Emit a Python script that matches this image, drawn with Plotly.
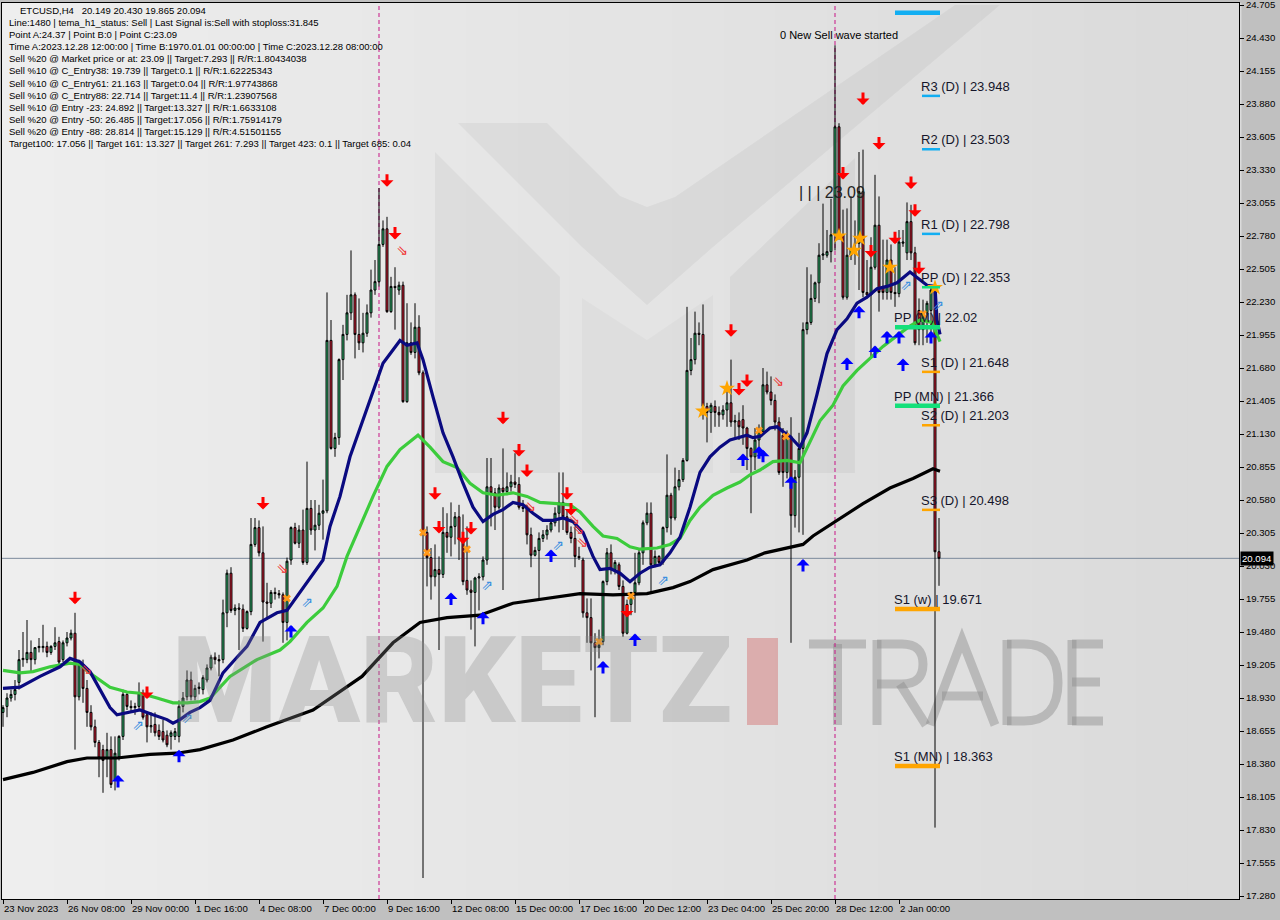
import plotly.graph_objects as go

# ---------------- DATA ----------------
opens = [18.81,18.86,18.93,18.96,19.06,19.25,19.25,19.31,19.25,19.35,
         19.35,19.36,19.31,19.36,19.40,19.25,19.39,19.43,19.47,18.94,
         19.21,19.01,18.81,18.69,18.56,18.50,18.43,18.50,18.25,18.44,
         18.61,18.96,18.86,18.85,18.86,18.97,18.79,18.69,18.71,18.66,
         18.65,18.62,18.61,18.61,18.61,18.86,18.94,19.08,18.94,19.01,
         19.00,19.08,19.18,19.27,19.25,19.25,19.64,19.97,19.66,19.68,
         19.67,19.51,19.65,20.21,20.35,20.14,19.73,19.72,19.81,19.80,
         19.79,19.56,20.08,20.35,20.22,20.33,20.06,20.51,20.33,20.37,
         20.47,20.49,21.91,21.01,21.10,21.75,21.96,22.14,22.29,21.96,
         21.89,21.97,22.14,22.33,22.40,22.71,22.84,22.15,22.36,22.33,
         22.37,21.40,21.89,21.81,22.02,21.64,20.31,20.10,19.94,20.00,
         19.96,20.31,20.27,20.36,20.44,20.25,19.91,19.83,19.81,19.93,
         19.94,20.08,20.69,20.64,20.52,20.68,20.65,20.69,20.73,20.71,
         20.52,20.51,20.29,20.12,20.16,20.26,20.29,20.33,20.39,20.47,
         20.56,20.44,20.31,20.26,20.11,20.08,19.64,19.60,19.39,19.35,
         19.40,19.90,20.14,20.00,20.04,19.86,19.47,19.71,19.81,19.89,
         20.14,20.39,20.47,20.04,20.11,20.06,20.35,20.62,20.43,20.69,
         20.75,20.91,21.66,21.75,21.97,21.96,21.36,21.31,21.36,21.31,
         21.29,21.33,21.39,21.23,21.24,21.25,21.18,21.01,20.94,21.08,
         21.15,21.54,21.48,21.41,21.23,21.12,20.81,21.11,20.45,20.77,
         21.01,22.00,22.06,22.26,22.39,22.62,22.62,22.65,22.79,23.69,
         22.79,22.27,22.62,22.67,22.72,23.15,22.31,22.29,22.52,22.87,
         22.36,22.31,22.58,22.31,22.30,22.72,22.64,22.90,22.64,22.16,
         22.00,22.14,22.16,22.33,20.149]
highs = [18.87,18.97,19.00,19.08,19.33,19.48,19.58,19.41,19.35,19.43,
         19.54,19.40,19.37,19.52,19.44,19.41,19.48,19.50,19.64,19.25,
         19.25,19.08,18.87,18.75,18.58,18.54,18.64,18.61,18.61,18.62,
         19.00,18.97,18.91,18.89,19.06,19.00,18.81,18.81,18.81,18.71,
         18.75,18.66,18.66,18.68,18.91,18.98,19.16,19.15,19.04,19.06,
         19.12,19.21,19.29,19.31,19.29,19.75,20.00,20.02,19.71,19.72,
         19.71,19.66,20.43,20.43,20.41,20.36,19.89,19.83,19.85,19.83,
         19.81,20.10,20.36,20.39,20.37,20.50,20.90,20.58,20.58,20.54,
         20.75,22.31,22.08,21.14,21.76,22.04,22.29,22.66,22.31,22.26,
         22.14,22.21,22.50,22.58,23.18,22.91,22.94,22.44,22.52,22.40,
         22.40,22.22,22.06,22.22,22.12,21.66,20.36,20.18,20.21,20.11,
         20.52,20.47,20.56,20.48,20.54,20.46,20.36,19.91,19.94,19.97,
         20.11,20.93,20.93,20.68,20.71,21.01,20.81,20.79,20.97,20.77,
         20.58,20.54,20.35,20.19,20.31,20.33,20.37,20.40,20.52,20.81,
         20.81,20.50,20.36,20.36,20.19,20.10,19.76,19.76,19.47,19.50,
         19.91,20.18,20.21,20.08,20.06,19.91,19.75,19.81,20.14,20.18,
         20.41,20.56,20.56,20.16,20.12,20.36,20.96,20.64,20.85,20.83,
         20.93,22.19,21.93,22.15,22.06,22.21,21.39,21.39,21.41,21.36,
         21.37,21.50,21.75,21.29,21.31,21.37,21.19,21.02,21.18,21.21,
         21.68,21.65,21.61,21.46,21.27,21.18,21.16,21.27,20.83,21.14,
         22.06,22.52,22.46,22.40,22.72,23.05,22.83,23.09,24.37,23.72,
         23.00,23.01,23.11,22.91,23.48,23.50,22.58,22.77,23.29,23.11,
         22.75,22.75,22.71,22.52,22.83,22.83,23.06,23.04,22.69,22.26,
         22.25,22.24,22.36,22.35,20.430]
lows = [18.69,18.77,18.90,18.91,19.00,19.19,19.22,19.15,19.21,19.31,
        19.31,19.27,19.29,19.33,19.21,19.23,19.36,19.41,18.50,18.91,
        18.89,18.69,18.66,18.52,18.27,18.14,18.27,18.18,18.16,18.41,
        18.58,18.83,18.81,18.79,18.83,18.75,18.56,18.64,18.61,18.58,
        18.56,18.52,18.50,18.58,18.56,18.81,18.91,18.91,18.91,18.96,
        18.96,19.06,19.16,19.21,19.11,19.22,19.52,19.64,19.62,19.33,
        19.48,19.50,19.62,20.19,20.11,19.40,19.58,19.68,19.75,19.76,
        19.39,19.41,20.04,20.21,20.18,20.04,20.04,20.29,20.16,20.33,
        20.25,20.47,21.00,20.94,21.04,21.58,21.91,22.08,21.76,21.83,
        21.81,21.94,22.10,22.29,22.36,22.69,22.14,22.14,22.00,22.29,
        21.39,21.39,21.79,21.76,21.62,17.43,19.86,19.75,19.86,19.33,
        19.93,20.14,20.11,20.21,20.08,19.87,19.79,19.50,19.36,19.66,
        19.91,20.04,20.36,20.33,20.50,19.83,20.62,20.65,20.68,20.50,
        20.48,20.21,20.02,20.11,19.75,20.23,20.25,20.31,20.36,20.31,
        20.33,20.29,20.22,20.02,20.08,19.60,19.39,19.16,18.77,19.26,
        19.37,19.87,19.96,19.96,19.83,19.44,19.46,19.62,19.64,19.87,
        20.04,20.37,19.81,20.02,20.04,20.04,20.31,20.29,20.41,20.66,
        20.73,20.90,21.62,21.71,21.87,21.25,21.06,21.14,21.19,21.19,
        21.25,21.19,21.19,21.08,21.08,21.04,20.83,20.47,20.83,21.01,
        21.12,21.46,21.37,21.16,20.79,20.69,20.76,19.39,20.35,20.31,
        20.29,21.96,22.04,22.23,22.22,22.58,22.60,22.56,22.66,22.75,
        22.25,22.25,22.58,22.54,22.33,22.27,22.26,21.77,22.50,22.15,
        22.25,22.25,22.25,22.19,22.27,22.69,22.58,22.58,21.87,21.87,
        21.87,21.89,21.97,17.85,19.865]
closes = [18.85,18.93,18.96,19.00,19.25,19.26,19.31,19.25,19.35,19.36,
          19.36,19.31,19.36,19.39,19.23,19.39,19.43,19.47,18.94,19.21,
          19.01,18.81,18.69,18.56,18.43,18.41,18.50,18.21,18.47,18.61,
          18.96,18.86,18.85,18.86,18.97,18.77,18.69,18.70,18.64,18.61,
          18.58,18.54,18.64,18.65,18.86,18.93,19.08,18.94,19.01,19.02,
          19.10,19.18,19.27,19.25,19.24,19.64,19.97,19.66,19.68,19.67,
          19.51,19.65,20.21,20.35,20.14,19.73,19.72,19.81,19.80,19.79,
          19.56,20.07,20.35,20.22,20.33,20.06,20.51,20.33,20.37,20.47,
          20.49,21.91,21.01,21.10,21.75,21.96,22.14,22.29,21.96,21.89,
          21.97,22.14,22.33,22.40,22.71,22.84,22.15,22.36,22.35,22.37,
          21.40,21.89,21.81,22.02,21.64,20.31,20.10,19.94,20.00,19.96,
          20.31,20.27,20.36,20.44,20.25,19.90,19.83,19.81,19.93,19.94,
          20.08,20.69,20.64,20.52,20.68,20.65,20.69,20.73,20.71,20.52,
          20.51,20.29,20.12,20.16,20.26,20.29,20.33,20.39,20.47,20.56,
          20.44,20.31,20.26,20.11,20.10,19.64,19.60,19.39,19.35,19.37,
          19.90,20.14,20.00,20.06,19.86,19.47,19.71,19.81,19.89,20.14,
          20.39,20.47,20.04,20.11,20.06,20.35,20.62,20.43,20.69,20.75,
          20.91,21.66,21.75,21.97,21.96,21.36,21.31,21.37,21.31,21.29,
          21.33,21.39,21.23,21.24,21.19,21.18,21.01,20.94,21.08,21.15,
          21.54,21.48,21.41,21.23,20.81,20.81,21.12,20.45,20.77,21.01,
          22.00,22.06,22.26,22.39,22.62,22.63,22.65,22.79,23.69,22.79,
          22.27,22.62,22.67,22.66,23.15,22.31,22.29,22.52,22.87,22.31,
          22.31,22.58,22.31,22.30,22.73,22.73,22.90,22.64,21.89,22.00,
          22.14,22.22,22.33,20.149,20.094]

# moving-average lines (bar index, price)
blue_x = [0,4.25,9.25,14.25,16.75,19.25,21.75,24.25,26.75,28.5,31,34.25,37.5,41,42.5,44.25,46.75,49.25,51.75,55,
          58.5,61,64.25,68.5,71,74.25,77.5,80,81.75,84.25,86.75,90,92.5,95,99.25,101,103.5,105,107.5,110,
          112.5,115,117.5,120,122.5,125,127.5,130,132.5,135,137.5,140,142.5,145,147.5,149.25,151.75,154.25,156.75,159.25,
          161.75,164.25,166.75,169.25,171.75,174.25,176.75,179.25,181.75,186,187.5,189.25,191.75,193.5,195,196.75,199.25,201,203.5,206,
          208.5,211,213.5,216,218.5,221,223.5,226.75,231,233,233.5,234.25]
blue_y = [19.01,19.02,19.11,19.19,19.26,19.23,19.15,19.00,18.85,18.79,18.81,18.83,18.79,18.75,18.72,18.75,18.81,18.85,18.91,19.14,
          19.27,19.36,19.56,19.64,19.66,19.81,19.97,20.08,20.36,20.61,20.94,21.25,21.50,21.72,21.91,21.87,21.89,21.75,21.44,21.14,
          20.94,20.72,20.52,20.40,20.46,20.50,20.56,20.54,20.47,20.41,20.41,20.43,20.40,20.31,20.11,20.00,20.01,19.97,19.90,19.97,
          20.02,20.04,20.14,20.27,20.52,20.81,20.94,21.02,21.08,21.12,21.10,21.11,21.18,21.19,21.15,21.11,21.02,21.14,21.46,21.80,
          22.00,22.09,22.22,22.27,22.34,22.36,22.39,22.48,22.37,22.36,22.08,21.96]
green_x = [0,4.25,7.5,11.75,16.75,19.25,22.5,26.75,31,34.25,38.5,42.5,46,49.25,51.75,56.75,63.5,69.25,71.75,76,
           80,83.5,86,89.25,92.5,96,99.25,103.75,106.75,110,113.5,116.75,120,123.5,127.5,131,134.25,138.5,141.75,144.25,
           147.5,150,153.5,156.75,159.25,163.5,166.75,169.25,171.75,174.25,177.5,181,184.25,186.75,189.25,192.5,196,199.25,201.75,204.25,
           207.5,210,213.5,216.75,220,223.5,226.75,229.25,232.25,234.25]
green_y = [19.16,19.14,19.15,19.19,19.22,19.21,19.12,19.02,18.98,18.97,18.93,18.89,18.89,18.90,18.93,19.11,19.25,19.33,19.40,19.56,
           19.68,19.86,20.11,20.36,20.61,20.86,21.00,21.12,21.02,20.90,20.85,20.72,20.64,20.62,20.64,20.61,20.56,20.55,20.54,20.48,
           20.36,20.28,20.26,20.19,20.17,20.18,20.21,20.26,20.41,20.52,20.62,20.68,20.73,20.79,20.83,20.90,20.91,20.89,21.07,21.24,
           21.37,21.53,21.66,21.76,21.86,21.95,22.03,22.08,22.06,21.90]
black_x = [0,7.5,16,21,28.5,36.75,43.5,49.25,57.5,66,77.5,89.75,97.5,104.25,111,119.25,127.5,136,141,144.25,
           152.5,161,167.5,171.75,177.5,186,190.5,196,200,202.5,208.5,215,221.75,227.5,232.5,234.25]
black_y = [18.25,18.31,18.40,18.43,18.43,18.46,18.47,18.50,18.58,18.69,18.83,19.11,19.39,19.56,19.60,19.62,19.72,19.76,19.79,19.80,
           19.79,19.80,19.85,19.90,20.00,20.08,20.14,20.18,20.21,20.28,20.41,20.55,20.68,20.76,20.84,20.82]

# signals (bar index, price)
sell_arrow_bar = [18,36,65,96,98,108,109,115,117,125,129,131,141,142,156,182,184,186,215,219,210,227,228,223,217,229]
sell_arrow_price = [19.77,18.98,20.56,23.25,22.81,20.64,20.36,20.27,20.35,21.27,21.00,20.83,20.64,20.51,19.66,22.00,21.51,21.58,
                    23.93,23.56,23.31,23.23,23.00,22.77,22.66,22.52]
buy_arrow_bar = [28.75,44,72,112,120,137,150,158,185,189,190,197,200,211,214,218,221,224,225,232]
buy_arrow_price = [18.23,18.44,19.48,19.75,19.59,20.11,19.18,19.41,20.91,20.97,20.94,20.72,20.03,21.71,22.14,21.81,21.93,21.93,21.70,21.93]
hollow_sell_bar = [20.75,69.75,99.75,131.75,142.75,143.75,144.75,193.75]
hollow_sell_price = [19.16,20.00,22.65,20.52,20.41,20.33,20.22,21.56]
hollow_buy_bar = [33.75,46,76,121,138.75,165,225.75,233.75]
hollow_buy_price = [18.69,18.75,19.72,19.86,20.19,19.90,22.36,22.19]
star_bar = [175,181,209,214.25,212.75,221.75,233]
star_price = [21.32,21.51,22.78,22.76,22.66,22.52,22.35]
cross_bar = [71,105,106,116,149,157,189,195.75,230]
cross_price = [19.76,20.31,20.14,20.17,19.40,19.78,21.16,21.11,22.13]

# pivot levels
pivot_names = ["R3 (D)", "R2 (D)", "R1 (D)", "PP (D)", "PP (M)", "S1 (D)", "PP (MN)", "S2 (D)", "S3 (D)", "S1 (w)", "S1 (MN)"]
pivot_values = [23.948, 23.503, 22.798, 22.353, 22.02, 21.648, 21.366, 21.203, 20.498, 19.671, 18.363]
top_level_value = 24.64

x_tick_bars = [0,16,32,48,64,80,96,112,128,144,160,176,192,208,224]
x_tick_labels = ["23 Nov 2023","26 Nov 08:00","29 Nov 00:00","1 Dec 16:00","4 Dec 08:00","7 Dec 00:00",
                 "9 Dec 16:00","12 Dec 08:00","15 Dec 00:00","17 Dec 16:00","20 Dec 12:00","23 Dec 04:00",
                 "25 Dec 20:00","28 Dec 12:00","2 Jan 00:00"]
y_tick_labels = ["24.705","24.430","24.155","23.880","23.605","23.330","23.055","22.780","22.505","22.230",
                 "21.955","21.680","21.405","21.130","20.855","20.580","20.305","20.030","19.755","19.480",
                 "19.205","18.930","18.655","18.380","18.105","17.830","17.555","17.280"]
last_price = 20.094
vline_bars = [94, 208]

header_lines = [
    "ETCUSD,H4\u00a0\u00a0 20.149 20.430 19.865 20.094",
    "Line:1480 | tema_h1_status: Sell | Last Signal is:Sell with stoploss:31.845",
    "Point A:24.37 | Point B:0 | Point C:23.09",
    "Time A:2023.12.28 12:00:00 | Time B:1970.01.01 00:00:00 | Time C:2023.12.28 08:00:00",
    "Sell %20 @ Market price or at: 23.09 || Target:7.293 || R/R:1.80434038",
    "Sell %10 @ C_Entry38: 19.739 || Target:0.1 || R/R:1.62225343",
    "Sell %10 @ C_Entry61: 21.163 || Target:0.04 || R/R:1.97743868",
    "Sell %10 @ C_Entry88: 22.714 || Target:11.4 || R/R:1.23907568",
    "Sell %10 @ Entry -23: 24.892 || Target:13.327 || R/R:1.6633108",
    "Sell %20 @ Entry -50: 26.485 || Target:17.056 || R/R:1.75914179",
    "Sell %20 @ Entry -88: 28.814 || Target:15.129 || R/R:4.51501155",
    "Target100: 17.056 || Target 161: 13.327 || Target 261: 7.293 || Target 423: 0.1 || Target 685: 0.04",
]

# ---------------- LAYOUT GEOMETRY ----------------
W, H = 1280, 920
ML, MR, MT, MB = 2, 41, 3, 21
PW, PH = W - ML - MR, H - MT - MB
Y_MIN, Y_MAX = 17.255, 24.722
X_MIN, X_MAX = -0.25, 309.0
PXU = PH / (Y_MAX - Y_MIN)          # pixels per price unit
BAR_PX = PW / (X_MAX - X_MIN)       # pixels per bar


def pxx(x):
    return (x - ML) / PW


def pxy(y):
    return (H - MB - y) / PH


def bar_at(xpix):
    return (xpix - ML) / BAR_PX + X_MIN


def poly(points):
    return "M" + " L".join(f"{pxx(a):.5f},{pxy(b):.5f}" for a, b in points) + " Z"


FONT = "Liberation Sans"
shapes = []
annotations = []

# background gradient bands (lighter on the left)
nb = 24
for k in range(nb):
    t = k / (nb - 1)
    c = int(238 - 19 * t)
    shapes.append(dict(type="rect", xref="paper", yref="paper", x0=k / nb, x1=(k + 1) / nb + 0.002, y0=0, y1=1,
                       fillcolor=f"rgb({c},{c},{c})", line=dict(width=0), layer="below"))

# big "M" logo in the background
logo_dark = "rgba(0,0,0,0.045)"
for pts, col in [
    ([(435, 152), (560, 277), (560, 473), (435, 473)], logo_dark),
    ([(730, 277), (855, 158), (855, 473), (730, 473)], logo_dark),
    ([(582, 298), (647, 340), (713, 295), (713, 473), (582, 473)], "rgba(0,0,0,0.022)"),
    ([(458, 123), (547, 123), (620, 196), (647, 207), (675, 197), (955, 5), (1000, 5), (713, 247), (647, 305), (582, 247)], logo_dark),
]:
    shapes.append(dict(type="path", xref="paper", yref="paper", path=poly(pts), fillcolor=col,
                       line=dict(width=0), layer="below"))

# watermark red bar and "TRADE"
shapes.append(dict(type="rect", xref="paper", yref="paper", x0=pxx(747), x1=pxx(778), y0=pxy(725), y1=pxy(638),
                   fillcolor="rgba(214,130,130,0.55)", line=dict(width=0), layer="below"))
trade_col = "rgba(140,140,140,0.45)"
trade_paths = [
    [(809, 644), (866, 644)], [(837.5, 644), (837.5, 725)],
    [(877, 640), (877, 725)], [(900, 684), (926, 725)],
    [(930, 725), (962, 640), (995, 725)], [(942, 696), (983, 696)],
    [(1007, 640), (1007, 725)],
    [(1072, 640), (1072, 725)], [(1072, 644), (1103, 644)], [(1072, 682), (1100, 682)], [(1072, 721), (1103, 721)],
]
for seg in trade_paths:
    p = "M" + " L".join(f"{pxx(a):.5f},{pxy(b):.5f}" for a, b in seg)
    shapes.append(dict(type="path", xref="paper", yref="paper", path=p, line=dict(color=trade_col, width=9), layer="below"))
shapes.append(dict(type="path", xref="paper", yref="paper",
                   path=(f"M{pxx(877):.5f},{pxy(644):.5f} L{pxx(902):.5f},{pxy(644):.5f} "
                         f"Q{pxx(923):.5f},{pxy(644):.5f} {pxx(923):.5f},{pxy(664):.5f} "
                         f"Q{pxx(923):.5f},{pxy(684):.5f} {pxx(902):.5f},{pxy(684):.5f} L{pxx(877):.5f},{pxy(684):.5f}"),
                   line=dict(color=trade_col, width=9), layer="below"))
shapes.append(dict(type="path", xref="paper", yref="paper",
                   path=(f"M{pxx(1007):.5f},{pxy(644):.5f} L{pxx(1024):.5f},{pxy(644):.5f} "
                         f"Q{pxx(1058):.5f},{pxy(644):.5f} {pxx(1058):.5f},{pxy(682.5):.5f} "
                         f"Q{pxx(1058):.5f},{pxy(721):.5f} {pxx(1024):.5f},{pxy(721):.5f} L{pxx(1007):.5f},{pxy(721):.5f}"),
                   line=dict(color=trade_col, width=9), layer="below"))

annotations.append(dict(xref="paper", yref="paper", x=pxx(452), y=pxy(681), xanchor="center", yanchor="middle",
                        text="MARKETZ", showarrow=False,
                        font=dict(family="Roboto", size=120, color="rgba(135,135,135,0.30)", weight=900)))

# current price line and vertical dashed lines
shapes.append(dict(type="line", xref="paper", yref="y", x0=0, x1=1, y0=last_price, y1=last_price,
                   line=dict(color="#7b8a9c", width=1), layer="below"))
for vb in vline_bars:
    shapes.append(dict(type="line", xref="x", yref="paper", x0=vb, x1=vb, y0=0, y1=1,
                       line=dict(color="#c71585", width=1, dash="4px,3px"), layer="below"))

# pivot segments and labels
for name, val in zip(pivot_names, pivot_values):
    daily = "(D)" in name
    if name.startswith("R"):
        col = "#12aef2"
    elif name.startswith("PP"):
        col = "#14e07a"
    else:
        col = "#ffa500"
    x0 = bar_at(922) if daily else bar_at(895)
    x1 = bar_at(940)
    shapes.append(dict(type="line", xref="x", yref="y", x0=x0, x1=x1, y0=val, y1=val,
                       line=dict(color=col, width=2.5 if daily else 4.5)))
    annotations.append(dict(xref="x", yref="y", x=x0, y=val, xanchor="left", yanchor="bottom", yshift=0, xshift=-3,
                            text=f"{name} | {val:g}" if name != "PP (D)" else f"{name} | {val:.3f}",
                            showarrow=False, font=dict(family=FONT, size=13, color="#15152a")))
shapes.append(dict(type="line", xref="x", yref="y", x0=bar_at(895), x1=bar_at(940),
                   y0=top_level_value, y1=top_level_value, line=dict(color="#12aef2", width=4.5)))

# header text
for k, line in enumerate(header_lines):
    annotations.append(dict(xref="paper", yref="paper", x=pxx(18 if k == 0 else 7), y=pxy(10.7 + 12.05 * k),
                            xanchor="left", yanchor="middle", text=line, showarrow=False,
                            font=dict(family=FONT, size=9.5, color="#000000")))

annotations.append(dict(xref="paper", yref="paper", x=pxx(778), y=pxy(35), xanchor="left", yanchor="middle",
                        text="0 New Sell wave started", showarrow=False, font=dict(family=FONT, size=11, color="#000")))
annotations.append(dict(xref="paper", yref="paper", x=pxx(797), y=pxy(193), xanchor="left", yanchor="middle",
                        text="| | | 23.09", showarrow=False, font=dict(family=FONT, size=16, color="#222")))

# arrows
for b, p in zip(sell_arrow_bar, sell_arrow_price):
    annotations.append(dict(xref="x", yref="y", x=b, y=p - 7 / PXU, ax=0, ay=-14, text="", showarrow=True,
                            arrowhead=1, arrowsize=0.72, arrowwidth=3, arrowcolor="#ff0000", standoff=0))
for b, p in zip(buy_arrow_bar, buy_arrow_price):
    annotations.append(dict(xref="x", yref="y", x=b, y=p + 7 / PXU, ax=0, ay=14, text="", showarrow=True,
                            arrowhead=1, arrowsize=0.72, arrowwidth=3, arrowcolor="#0000ff", standoff=0))

# x labels
for b, t in zip(x_tick_bars, x_tick_labels):
    annotations.append(dict(xref="x", yref="paper", x=b, y=0, xanchor="left", yanchor="top", yshift=-2, xshift=-1,
                            text=t, showarrow=False, font=dict(family=FONT, size=9.6, color="#000")))
# current price box
annotations.append(dict(xref="paper", yref="y", x=1, y=last_price, xanchor="left", yanchor="middle", xshift=1,
                        text=f"{last_price:.3f}", showarrow=False, bgcolor="#000000", borderpad=1,
                        font=dict(family=FONT, size=9.6, color="#ffffff")))

# ---------------- FIGURE ----------------
fig = go.Figure()
fig.add_trace(go.Candlestick(
    x=list(range(len(opens))), open=opens, high=highs, low=lows, close=closes,
    increasing=dict(fillcolor="#35c97a", line=dict(color="#000000", width=1)),
    decreasing=dict(fillcolor="#e8203a", line=dict(color="#000000", width=1)),
    whiskerwidth=0, showlegend=False, hoverinfo="skip"))
fig.add_trace(go.Scatter(x=black_x, y=black_y, mode="lines", line=dict(color="#000000", width=3.2),
                         showlegend=False, hoverinfo="skip"))
fig.add_trace(go.Scatter(x=green_x, y=green_y, mode="lines", line=dict(color="#3ccc3c", width=3.2),
                         showlegend=False, hoverinfo="skip"))
fig.add_trace(go.Scatter(x=blue_x, y=blue_y, mode="lines", line=dict(color="#0a0a80", width=3.2),
                         showlegend=False, hoverinfo="skip"))
fig.add_trace(go.Scatter(x=hollow_buy_bar, y=hollow_buy_price, mode="text", text=["\u21d7"] * len(hollow_buy_bar),
                         textfont=dict(family="DejaVu Sans", size=14, color="#3a8fe0"), showlegend=False, hoverinfo="skip"))
fig.add_trace(go.Scatter(x=hollow_sell_bar, y=hollow_sell_price, mode="text", text=["\u21d8"] * len(hollow_sell_bar),
                         textfont=dict(family="DejaVu Sans", size=14, color="#f03030"), showlegend=False, hoverinfo="skip"))
fig.add_trace(go.Scatter(x=star_bar, y=star_price, mode="markers",
                         marker=dict(symbol="star", size=12, color="#ffa500", line=dict(width=0)),
                         showlegend=False, hoverinfo="skip"))
fig.add_trace(go.Scatter(x=cross_bar, y=cross_price, mode="markers",
                         marker=dict(symbol="x", size=7, color="#ff9a1a", line=dict(width=0)),
                         showlegend=False, hoverinfo="skip"))

fig.update_layout(
    width=W, height=H,
    margin=dict(l=ML, r=MR, t=MT, b=MB, autoexpand=False),
    paper_bgcolor="#c0c0c0", plot_bgcolor="#e6e6e6",
    showlegend=False, hovermode=False,
    shapes=shapes, annotations=annotations,
    xaxis=dict(range=[X_MIN, X_MAX], showgrid=False, zeroline=False, rangeslider=dict(visible=False),
               automargin=False,
               tickmode="array", tickvals=x_tick_bars, ticktext=[""] * len(x_tick_bars),
               ticks="outside", ticklen=4, tickcolor="#000", showline=True, linecolor="#000", linewidth=1, mirror=True),
    yaxis=dict(range=[Y_MIN, Y_MAX], side="right", showgrid=False, zeroline=False, automargin=False,
               tickmode="array", tickvals=[float(s) for s in y_tick_labels], ticktext=y_tick_labels,
               ticks="outside", ticklen=4, tickcolor="#000", tickfont=dict(family=FONT, size=9.6, color="#000"),
               ticklabeloverflow="allow",
               showline=True, linecolor="#000", linewidth=1, mirror=True),
)

fig.write_html("out.html", config={"displayModeBar": False},
               post_script="document.body.style.margin='0';document.body.style.background='#c0c0c0';")
